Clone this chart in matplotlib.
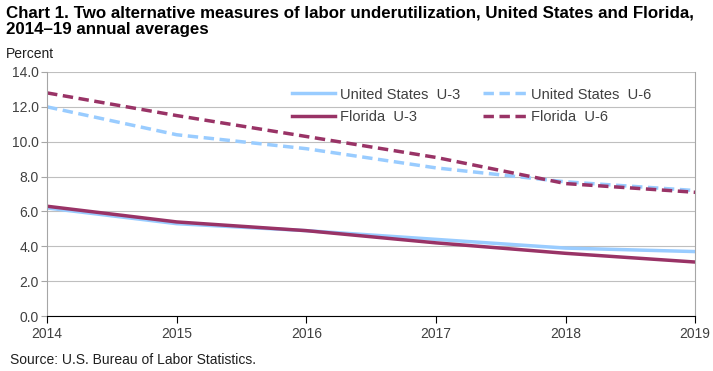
import matplotlib.pyplot as plt

years = [2014, 2015, 2016, 2017, 2018, 2019]
us_u3 = [6.2, 5.3, 4.9, 4.4, 3.9, 3.7]
us_u6 = [12.0, 10.4, 9.6, 8.5, 7.7, 7.2]
fl_u3 = [6.3, 5.4, 4.9, 4.2, 3.6, 3.1]
fl_u6 = [12.8, 11.5, 10.3, 9.1, 7.6, 7.1]

plt.rcParams['font.family'] = ['Liberation Sans', 'DejaVu Sans']

fig = plt.figure(figsize=(7.13, 3.71), dpi=100)
ax = fig.add_axes([0.066, 0.148, 0.909, 0.658])

blue = '#99ccff'
maroon = '#993366'
l1, = ax.plot(years, us_u3, color=blue, lw=2.5, label='United States  U-3')
l2, = ax.plot(years, us_u6, color=blue, lw=2.5, ls=(0, (3, 1.6)), label='United States  U-6')
l3, = ax.plot(years, fl_u3, color=maroon, lw=2.5, label='Florida  U-3')
l4, = ax.plot(years, fl_u6, color=maroon, lw=2.5, ls=(0, (3, 1.6)), label='Florida  U-6')

ax.set_xlim(2014, 2019)
ax.set_ylim(0, 14)
ax.set_yticks([0, 2, 4, 6, 8, 10, 12, 14])
ax.set_yticklabels(['%.1f' % v for v in [0, 2, 4, 6, 8, 10, 12, 14]])
ax.set_xticks(years)
ax.grid(axis='y', color='#bfbfbf', lw=0.8)
ax.set_axisbelow(True)
for s in ['top', 'right', 'left']:
    ax.spines[s].set_color('#a6a6a6')
ax.spines['top'].set_visible(False)
ax.spines['bottom'].set_color('black')
ax.tick_params(axis='y', length=4, color='#a6a6a6', labelsize=10, labelcolor='#404040', pad=2)
ax.tick_params(axis='x', length=5, color='black', labelsize=10, labelcolor='#404040', pad=3)

# ncol=2 fills column by column, so order handles to get US on row 1, Florida on row 2
leg = ax.legend([l1, l3, l2, l4], [l1.get_label(), l3.get_label(), l2.get_label(), l4.get_label()],
                ncol=2, loc='upper left', bbox_to_anchor=(0.357, 0.99), frameon=False,
                fontsize=10.5, handlelength=3.0, handletextpad=0.3, columnspacing=1.6,
                labelspacing=0.6, labelcolor='#404040')

fig.text(0.008, 0.985, 'Chart 1. Two alternative measures of labor underutilization, United States and Florida,\n2014\u201319 annual averages',
         fontsize=12.2, fontweight='bold', va='top', linespacing=1.1)
fig.text(0.008, 0.845, 'Percent', fontsize=10, color='#202020')
fig.text(0.014, 0.02, 'Source: U.S. Bureau of Labor Statistics.', fontsize=10, color='#202020')

fig.savefig('out.png', dpi=100)
